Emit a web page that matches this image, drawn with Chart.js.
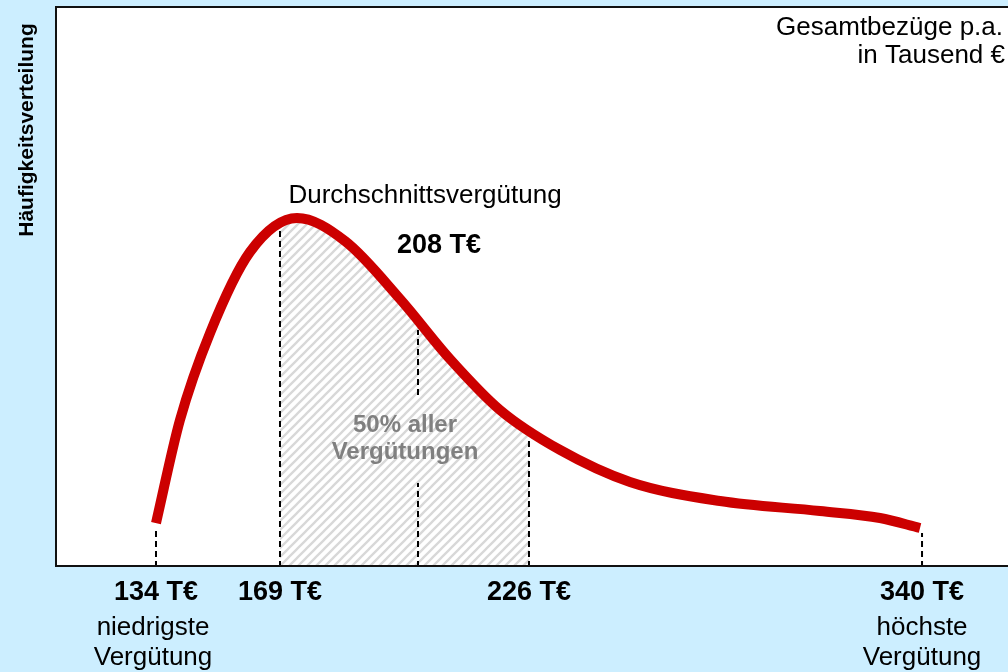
<!DOCTYPE html>
<html>
<head>
<meta charset="utf-8">
<script src="https://cdn.jsdelivr.net/npm/chart.js@4"></script>
<style>
    html, body { margin: 0; padding: 0; background: #cceeff; }
    canvas { display: block; }
</style>
</head>
<body>
<canvas id="distChart" width="1008" height="672"></canvas>
<script>
// schematic positions: x = 0..100 across the plot, y = frequency 0..100
const curveX = [10.41, 12.93, 16.09, 20.29, 25.24, 30.28, 36.07, 41.32, 46.58, 52.89, 60.25, 69.72, 80.23, 86.54, 90.75];
const curveY = [7.84, 26.2, 41.71, 56.15, 62.21, 58.11, 47.77, 37.08, 27.99, 20.86, 15.15, 11.76, 9.98, 8.73, 6.95];

// 50% band (169 T€ .. 226 T€)
const bandX = [23.45, 25.24, 30.28, 36.07, 41.32, 46.58, 49.63];
const bandY = [61.5, 62.21, 58.11, 47.77, 37.08, 27.99, 24.06];

// dashed guide lines: [x, from, to]
const guideSegments = [
    [10.41, 0, 7.13],
    [23.45, 0, 60.07],
    [37.96, 0, 14.97],
    [37.96, 30.66, 42.25],
    [49.63, 0, 22.64],
    [90.96, 0, 6.06],
];

const tickValues = [10.41, 23.45, 49.63, 90.96];
const tickLabels = ["134 T€", "169 T€", "226 T€", "340 T€"];
const tickNotes = [["niedrigste", "Vergütung"], [], [], ["höchste", "Vergütung"]];

const FONT = "'Liberation Sans', Arial, sans-serif";

function hatchPattern() {
    const p = document.createElement("canvas");
    p.width = 9;
    p.height = 9;
    const c = p.getContext("2d");
    c.strokeStyle = "#d8d8d8";
    c.lineWidth = 2.3;
    c.beginPath();
    c.moveTo(-1, 10);
    c.lineTo(10, -1);
    c.moveTo(-1, 1);
    c.lineTo(1, -1);
    c.moveTo(8, 10);
    c.lineTo(10, 8);
    c.stroke();
    return document.getElementById("distChart").getContext("2d").createPattern(p, "repeat");
}

const guideData = [];
guideSegments.forEach(([x, y0, y1]) => {
    guideData.push({ x: x, y: y0 }, { x: x, y: y1 }, { x: x, y: null });
});

const framePlugin = {
    id: "frame",
    beforeDraw(chart) {
        const { ctx, chartArea: a } = chart;
        ctx.save();
        ctx.fillStyle = "#cceeff";
        ctx.fillRect(0, 0, chart.width, chart.height);
        ctx.fillStyle = "#ffffff";
        ctx.fillRect(a.left, a.top, a.right - a.left, a.bottom - a.top);
        ctx.restore();
    },
    afterDraw(chart) {
        const { ctx, chartArea: a } = chart;
        const xs = chart.scales.x;
        const ys = chart.scales.y;
        ctx.save();

        ctx.strokeStyle = "#111111";
        ctx.lineWidth = 2;
        ctx.beginPath();
        ctx.moveTo(chart.width, a.top + 1);
        ctx.lineTo(a.left - 1, a.top + 1);
        ctx.lineTo(a.left - 1, a.bottom - 1);
        ctx.lineTo(chart.width, a.bottom - 1);
        ctx.stroke();

        ctx.fillStyle = "#000000";
        ctx.textAlign = "center";
        ctx.textBaseline = "alphabetic";
        tickValues.forEach((v, i) => {
            const px = xs.getPixelForValue(v);
            ctx.font = "bold 27px " + FONT;
            ctx.fillText(tickLabels[i], px, a.bottom + 33);
            ctx.font = "26px " + FONT;
            tickNotes[i].forEach((line, j) => {
                ctx.fillText(line, px - (i === 0 ? 3 : 0), a.bottom + 68 + j * 30);
            });
        });

        ctx.font = "26px " + FONT;
        ctx.fillText("Durchschnittsvergütung", xs.getPixelForValue(38.7), ys.getPixelForValue(64.88));
        ctx.font = "bold 27px " + FONT;
        ctx.fillText("208 T€", xs.getPixelForValue(40.17), ys.getPixelForValue(55.97));

        ctx.fillStyle = "#808080";
        ctx.font = "bold 24px " + FONT;
        ctx.fillText("50% aller", xs.getPixelForValue(36.59), ys.getPixelForValue(24.06));
        ctx.fillText("Vergütungen", xs.getPixelForValue(36.59), ys.getPixelForValue(19.25));

        ctx.fillStyle = "#000000";
        ctx.textAlign = "right";
        ctx.font = "26px " + FONT;
        ctx.fillText("Gesamtbezüge p.a.", a.right - 5, a.top + 29);
        ctx.fillText("in Tausend €", a.right - 3, a.top + 57);

        ctx.translate(33, 130);
        ctx.rotate(-Math.PI / 2);
        ctx.textAlign = "center";
        ctx.font = "bold 21px " + FONT;
        ctx.fillText("Häufigkeitsverteilung", 0, 0);
        ctx.restore();
    },
};

new Chart(document.getElementById("distChart"), {
    type: "line",
    data: {
        datasets: [
            {
                label: "Verteilung",
                data: curveX.map((x, i) => ({ x: x, y: curveY[i] })),
                borderColor: "#cc0000",
                borderWidth: 10,
                cubicInterpolationMode: "monotone",
                pointRadius: 0,
                fill: false,
            },
            {
                label: "Hilfslinien",
                data: guideData,
                borderColor: "#000000",
                borderWidth: 2,
                borderDash: [6, 4],
                tension: 0,
                spanGaps: false,
                pointRadius: 0,
                fill: false,
            },
            {
                label: "50%",
                data: bandX.map((x, i) => ({ x: x, y: bandY[i] })),
                borderWidth: 0,
                borderColor: "rgba(0,0,0,0)",
                backgroundColor: hatchPattern(),
                cubicInterpolationMode: "monotone",
                pointRadius: 0,
                fill: "origin",
            },
        ],
    },
    options: {
        responsive: false,
        animation: false,
        layout: { padding: { left: 57, top: 6, right: 0, bottom: 105 } },
        scales: {
            x: { type: "linear", min: 0, max: 100, display: false },
            y: { min: 0, max: 100, display: false },
        },
        plugins: {
            legend: { display: false },
            tooltip: { enabled: false },
        },
    },
    plugins: [framePlugin],
});
</script>
</body>
</html>
